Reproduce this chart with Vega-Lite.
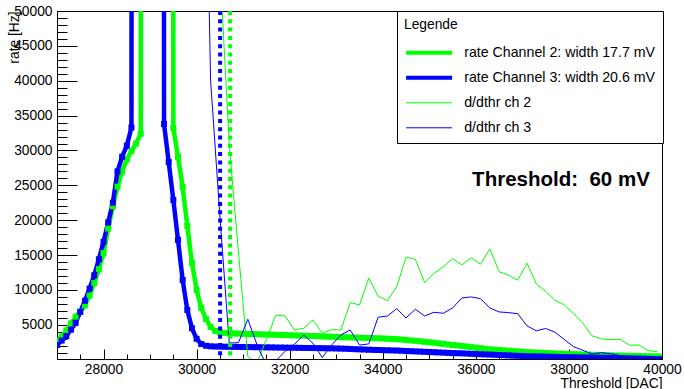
{
  "$schema": "https://vega.github.io/schema/vega-lite/v6.json",
  "autosize": {"type": "none"},
  "padding": {"left": 57, "top": 11, "right": 22, "bottom": 30},
  "width": 605,
  "height": 348,
  "background": "white",
  "config": {
    "font": "Liberation Sans",
    "view": {"stroke": "black", "strokeWidth": 1},
    "axis": {"grid": false, "domainColor": "black", "tickColor": "black", "labelColor": "black", "titleColor": "black", "labelFont": "Liberation Sans", "titleFont": "Liberation Sans", "labelFontSize": 13.8, "titleFontSize": 13.8, "titleFontWeight": "normal", "labelOverlap": false, "labelBound": false, "labelFlush": false}
  },
  "data": {"values": [
    {"s":"r2","x":27000,"y":2700},{"s":"r2","x":27100,"y":3350},{"s":"r2","x":27200,"y":4200},{"s":"r2","x":27300,"y":5200},{"s":"r2","x":27400,"y":6150},{"s":"r2","x":27500,"y":6900},{"s":"r2","x":27600,"y":7800},{"s":"r2","x":27700,"y":9200},{"s":"r2","x":27800,"y":11000},{"s":"r2","x":27900,"y":13000},{"s":"r2","x":28000,"y":15300},{"s":"r2","x":28100,"y":18800},{"s":"r2","x":28200,"y":22000},{"s":"r2","x":28300,"y":24800},{"s":"r2","x":28400,"y":27000},{"s":"r2","x":28500,"y":28700},{"s":"r2","x":28600,"y":29900},{"s":"r2","x":28700,"y":31000},{"s":"r2","x":28800,"y":32400},{"s":"r2","x":28900,"y":1000000},{"s":"r2","x":29400,"y":1000000},{"s":"r2","x":29500,"y":33230},{"s":"r2","x":29600,"y":29070},{"s":"r2","x":29700,"y":24770},{"s":"r2","x":29800,"y":19180},{"s":"r2","x":29900,"y":13870},{"s":"r2","x":30000,"y":10000},{"s":"r2","x":30100,"y":7420},{"s":"r2","x":30200,"y":5840},{"s":"r2","x":30300,"y":4700},{"s":"r2","x":30400,"y":4130},{"s":"r2","x":30500,"y":3900},
    {"s":"r2","x":30600,"y":3850},{"s":"r2","x":30700,"y":3800},{"s":"r2","x":30800,"y":3770},{"s":"r2","x":30900,"y":3740},{"s":"r2","x":31000,"y":3710},{"s":"r2","x":31100,"y":3690},{"s":"r2","x":31200,"y":3670},{"s":"r2","x":31300,"y":3650},{"s":"r2","x":31400,"y":3630},{"s":"r2","x":31500,"y":3610},{"s":"r2","x":31600,"y":3590},{"s":"r2","x":31700,"y":3570},{"s":"r2","x":31800,"y":3550},{"s":"r2","x":31900,"y":3530},{"s":"r2","x":32000,"y":3510},{"s":"r2","x":32100,"y":3490},{"s":"r2","x":32200,"y":3470},{"s":"r2","x":32300,"y":3450},{"s":"r2","x":32400,"y":3420},{"s":"r2","x":32500,"y":3400},{"s":"r2","x":32600,"y":3370},{"s":"r2","x":32700,"y":3340},{"s":"r2","x":32800,"y":3310},{"s":"r2","x":32900,"y":3280},{"s":"r2","x":33000,"y":3250},{"s":"r2","x":33100,"y":3230},{"s":"r2","x":33200,"y":3210},{"s":"r2","x":33300,"y":3190},{"s":"r2","x":33400,"y":3170},{"s":"r2","x":33500,"y":3150},{"s":"r2","x":33600,"y":3130},{"s":"r2","x":33700,"y":3110},{"s":"r2","x":33800,"y":3090},{"s":"r2","x":33900,"y":3070},{"s":"r2","x":34000,"y":3040},{"s":"r2","x":34100,"y":3010},{"s":"r2","x":34200,"y":2980},{"s":"r2","x":34300,"y":2950},{"s":"r2","x":34400,"y":2890},{"s":"r2","x":34500,"y":2830},{"s":"r2","x":34600,"y":2770},{"s":"r2","x":34700,"y":2710},{"s":"r2","x":34800,"y":2640},{"s":"r2","x":34900,"y":2570},{"s":"r2","x":35000,"y":2500},{"s":"r2","x":35100,"y":2430},{"s":"r2","x":35200,"y":2350},{"s":"r2","x":35300,"y":2270},{"s":"r2","x":35400,"y":2190},{"s":"r2","x":35500,"y":2110},{"s":"r2","x":35600,"y":2040},{"s":"r2","x":35700,"y":1970},{"s":"r2","x":35800,"y":1890},{"s":"r2","x":35900,"y":1810},{"s":"r2","x":36000,"y":1730},{"s":"r2","x":36100,"y":1650},{"s":"r2","x":36200,"y":1570},{"s":"r2","x":36300,"y":1500},{"s":"r2","x":36400,"y":1440},{"s":"r2","x":36500,"y":1390},{"s":"r2","x":36600,"y":1340},{"s":"r2","x":36700,"y":1290},{"s":"r2","x":36800,"y":1240},{"s":"r2","x":36900,"y":1190},{"s":"r2","x":37000,"y":1140},{"s":"r2","x":37100,"y":1090},{"s":"r2","x":37200,"y":1050},{"s":"r2","x":37300,"y":1020},{"s":"r2","x":37400,"y":990},{"s":"r2","x":37500,"y":960},{"s":"r2","x":37600,"y":930},{"s":"r2","x":37700,"y":900},{"s":"r2","x":37800,"y":870},{"s":"r2","x":37900,"y":840},{"s":"r2","x":38000,"y":810},{"s":"r2","x":38100,"y":790},{"s":"r2","x":38200,"y":770},{"s":"r2","x":38300,"y":750},{"s":"r2","x":38400,"y":730},{"s":"r2","x":38500,"y":710},{"s":"r2","x":38600,"y":690},{"s":"r2","x":38700,"y":670},{"s":"r2","x":38800,"y":650},{"s":"r2","x":38900,"y":630},{"s":"r2","x":39000,"y":610},{"s":"r2","x":39100,"y":590},{"s":"r2","x":39200,"y":570},{"s":"r2","x":39300,"y":560},{"s":"r2","x":39400,"y":540},{"s":"r2","x":39500,"y":520},{"s":"r2","x":39600,"y":500},{"s":"r2","x":39700,"y":490},{"s":"r2","x":39800,"y":470},{"s":"r2","x":39900,"y":460},{"s":"r2","x":40000,"y":440},
    {"s":"r3","x":27000,"y":2100},{"s":"r3","x":27100,"y":2750},{"s":"r3","x":27200,"y":3400},{"s":"r3","x":27300,"y":4300},{"s":"r3","x":27400,"y":5300},{"s":"r3","x":27500,"y":6850},{"s":"r3","x":27600,"y":8450},{"s":"r3","x":27700,"y":10200},{"s":"r3","x":27800,"y":12100},{"s":"r3","x":27900,"y":14400},{"s":"r3","x":28000,"y":16900},{"s":"r3","x":28100,"y":19700},{"s":"r3","x":28200,"y":22500},{"s":"r3","x":28300,"y":27000},{"s":"r3","x":28400,"y":29100},{"s":"r3","x":28500,"y":30700},{"s":"r3","x":28600,"y":33300},{"s":"r3","x":28700,"y":1000000},{"s":"r3","x":29200,"y":1000000},{"s":"r3","x":29300,"y":33800},{"s":"r3","x":29400,"y":28350},{"s":"r3","x":29500,"y":22900},{"s":"r3","x":29600,"y":17170},{"s":"r3","x":29700,"y":11430},{"s":"r3","x":29800,"y":7130},{"s":"r3","x":29900,"y":4500},{"s":"r3","x":30000,"y":3000},{"s":"r3","x":30100,"y":2250},{"s":"r3","x":30200,"y":2000},{"s":"r3","x":30300,"y":1920},{"s":"r3","x":30400,"y":1890},{"s":"r3","x":30500,"y":1870},
    {"s":"r3","x":30600,"y":1860},{"s":"r3","x":30700,"y":1850},{"s":"r3","x":30800,"y":1840},{"s":"r3","x":30900,"y":1830},{"s":"r3","x":31000,"y":1820},{"s":"r3","x":31100,"y":1810},{"s":"r3","x":31200,"y":1800},{"s":"r3","x":31300,"y":1790},{"s":"r3","x":31400,"y":1780},{"s":"r3","x":31500,"y":1770},{"s":"r3","x":31600,"y":1760},{"s":"r3","x":31700,"y":1750},{"s":"r3","x":31800,"y":1740},{"s":"r3","x":31900,"y":1730},{"s":"r3","x":32000,"y":1720},{"s":"r3","x":32100,"y":1710},{"s":"r3","x":32200,"y":1700},{"s":"r3","x":32300,"y":1690},{"s":"r3","x":32400,"y":1680},{"s":"r3","x":32500,"y":1670},{"s":"r3","x":32600,"y":1660},{"s":"r3","x":32700,"y":1650},{"s":"r3","x":32800,"y":1640},{"s":"r3","x":32900,"y":1630},{"s":"r3","x":33000,"y":1610},{"s":"r3","x":33100,"y":1590},{"s":"r3","x":33200,"y":1570},{"s":"r3","x":33300,"y":1540},{"s":"r3","x":33400,"y":1510},{"s":"r3","x":33500,"y":1480},{"s":"r3","x":33600,"y":1460},{"s":"r3","x":33700,"y":1430},{"s":"r3","x":33800,"y":1410},{"s":"r3","x":33900,"y":1390},{"s":"r3","x":34000,"y":1370},{"s":"r3","x":34100,"y":1350},{"s":"r3","x":34200,"y":1330},{"s":"r3","x":34300,"y":1310},{"s":"r3","x":34400,"y":1280},{"s":"r3","x":34500,"y":1250},{"s":"r3","x":34600,"y":1220},{"s":"r3","x":34700,"y":1190},{"s":"r3","x":34800,"y":1160},{"s":"r3","x":34900,"y":1130},{"s":"r3","x":35000,"y":1100},{"s":"r3","x":35100,"y":1070},{"s":"r3","x":35200,"y":1040},{"s":"r3","x":35300,"y":1010},{"s":"r3","x":35400,"y":980},{"s":"r3","x":35500,"y":950},{"s":"r3","x":35600,"y":930},{"s":"r3","x":35700,"y":910},{"s":"r3","x":35800,"y":880},{"s":"r3","x":35900,"y":850},{"s":"r3","x":36000,"y":820},{"s":"r3","x":36100,"y":790},{"s":"r3","x":36200,"y":760},{"s":"r3","x":36300,"y":730},{"s":"r3","x":36400,"y":700},{"s":"r3","x":36500,"y":670},{"s":"r3","x":36600,"y":640},{"s":"r3","x":36700,"y":610},{"s":"r3","x":36800,"y":580},{"s":"r3","x":36900,"y":550},{"s":"r3","x":37000,"y":520},{"s":"r3","x":37100,"y":500},{"s":"r3","x":37200,"y":480},{"s":"r3","x":37300,"y":470},{"s":"r3","x":37400,"y":450},{"s":"r3","x":37500,"y":440},{"s":"r3","x":37600,"y":420},{"s":"r3","x":37700,"y":410},{"s":"r3","x":37800,"y":390},{"s":"r3","x":37900,"y":380},{"s":"r3","x":38000,"y":360},{"s":"r3","x":38100,"y":350},{"s":"r3","x":38200,"y":340},{"s":"r3","x":38300,"y":330},{"s":"r3","x":38400,"y":320},{"s":"r3","x":38500,"y":310},{"s":"r3","x":38600,"y":300},{"s":"r3","x":38700,"y":290},{"s":"r3","x":38800,"y":280},{"s":"r3","x":38900,"y":270},{"s":"r3","x":39000,"y":250},{"s":"r3","x":39100,"y":240},{"s":"r3","x":39200,"y":220},{"s":"r3","x":39300,"y":200},{"s":"r3","x":39400,"y":180},{"s":"r3","x":39500,"y":160},{"s":"r3","x":39600,"y":140},{"s":"r3","x":39700,"y":120},{"s":"r3","x":39800,"y":100},{"s":"r3","x":39900,"y":80},{"s":"r3","x":40000,"y":60},
    {"s":"d2","x":30500,"y":56300},{"s":"d2","x":30700,"y":31000},{"s":"d2","x":30900,"y":15300},{"s":"d2","x":31100,"y":450},{"s":"d2","x":31300,"y":-400},{"s":"d2","x":31500,"y":2900},{"s":"d2","x":31700,"y":6400},{"s":"d2","x":31900,"y":6270},{"s":"d2","x":32100,"y":4270},{"s":"d2","x":32300,"y":4510},{"s":"d2","x":32500,"y":5700},{"s":"d2","x":32700,"y":3790},{"s":"d2","x":32900,"y":4300},{"s":"d2","x":33100,"y":4270},{"s":"d2","x":33300,"y":8200},{"s":"d2","x":33500,"y":7850},{"s":"d2","x":33700,"y":11700},{"s":"d2","x":33900,"y":9100},{"s":"d2","x":34100,"y":8470},{"s":"d2","x":34300,"y":10470},{"s":"d2","x":34500,"y":14690},{"s":"d2","x":34700,"y":14400},{"s":"d2","x":34900,"y":11050},{"s":"d2","x":35100,"y":12390},{"s":"d2","x":35300,"y":13340},{"s":"d2","x":35500,"y":14490},{"s":"d2","x":35700,"y":13580},{"s":"d2","x":35900,"y":14630},{"s":"d2","x":36100,"y":13690},{"s":"d2","x":36300,"y":15880},{"s":"d2","x":36500,"y":12620},{"s":"d2","x":36700,"y":12150},{"s":"d2","x":36900,"y":11390},{"s":"d2","x":37100,"y":13830},{"s":"d2","x":37300,"y":10860},{"s":"d2","x":37500,"y":9810},{"s":"d2","x":37700,"y":8520},{"s":"d2","x":37900,"y":7890},{"s":"d2","x":38100,"y":6600},{"s":"d2","x":38300,"y":5230},{"s":"d2","x":38500,"y":3410},{"s":"d2","x":38700,"y":2980},{"s":"d2","x":38900,"y":2880},{"s":"d2","x":39100,"y":2930},{"s":"d2","x":39300,"y":2070},{"s":"d2","x":39500,"y":2120},{"s":"d2","x":39700,"y":1300},{"s":"d2","x":39900,"y":1150},
    {"s":"d3","x":30100,"y":110000},{"s":"d3","x":30300,"y":40100},{"s":"d3","x":30500,"y":20600},{"s":"d3","x":30700,"y":2400},{"s":"d3","x":30900,"y":2450},{"s":"d3","x":31100,"y":5800},{"s":"d3","x":31300,"y":2100},{"s":"d3","x":31500,"y":-800},{"s":"d3","x":31700,"y":-200},{"s":"d3","x":31900,"y":1200},{"s":"d3","x":32100,"y":2200},{"s":"d3","x":32300,"y":3550},{"s":"d3","x":32500,"y":2360},{"s":"d3","x":32700,"y":300},{"s":"d3","x":32900,"y":2100},{"s":"d3","x":33100,"y":3550},{"s":"d3","x":33300,"y":4265},{"s":"d3","x":33500,"y":2100},{"s":"d3","x":33700,"y":2260},{"s":"d3","x":33900,"y":6090},{"s":"d3","x":34100,"y":6270},{"s":"d3","x":34300,"y":7320},{"s":"d3","x":34500,"y":5990},{"s":"d3","x":34700,"y":7230},{"s":"d3","x":34900,"y":6270},{"s":"d3","x":35100,"y":6800},{"s":"d3","x":35300,"y":6660},{"s":"d3","x":35500,"y":7420},{"s":"d3","x":35700,"y":8850},{"s":"d3","x":35900,"y":9000},{"s":"d3","x":36100,"y":8750},{"s":"d3","x":36300,"y":7420},{"s":"d3","x":36500,"y":6850},{"s":"d3","x":36700,"y":6750},{"s":"d3","x":36900,"y":6600},{"s":"d3","x":37100,"y":4850},{"s":"d3","x":37300,"y":4140},{"s":"d3","x":37500,"y":4480},{"s":"d3","x":37700,"y":3940},{"s":"d3","x":37900,"y":2900},{"s":"d3","x":38100,"y":1870},{"s":"d3","x":38300,"y":1350},{"s":"d3","x":38500,"y":820},{"s":"d3","x":38700,"y":1010},{"s":"d3","x":38900,"y":850},{"s":"d3","x":39100,"y":600},{"s":"d3","x":39300,"y":400},{"s":"d3","x":39500,"y":300},{"s":"d3","x":39700,"y":250},{"s":"d3","x":39900,"y":250}
  ]},
  "encoding": {
    "x": {"field": "x", "type": "quantitative", "title": "Threshold [DAC]",
      "scale": {"domain": [27000, 40000], "nice": false, "zero": false},
      "axis": {"format": "d", "values": [27500,28000,28500,29000,29500,30000,30500,31000,31500,32000,32500,33000,33500,34000,34500,35000,35500,36000,36500,37000,37500,38000,38500,39000,39500,40000],
        "labelExpr": "datum.value % 2000 === 0 ? datum.label : ''",
        "tickSize": {"condition": {"test": "datum.value % 2000 === 0", "value": -10}, "value": -5},
        "labelPadding": 13, "labelBaseline": "top",
        "titleAnchor": "end", "titleAlign": "right", "titleX": 605, "titleY": 24, "titleBaseline": "middle"}},
    "y": {"field": "y", "type": "quantitative", "title": "rate [Hz]",
      "scale": {"domain": [100, 50000], "nice": false, "zero": false},
      "axis": {"format": "d", "values": [1000,2000,3000,4000,5000,6000,7000,8000,9000,10000,11000,12000,13000,14000,15000,16000,17000,18000,19000,20000,21000,22000,23000,24000,25000,26000,27000,28000,29000,30000,31000,32000,33000,34000,35000,36000,37000,38000,39000,40000,41000,42000,43000,44000,45000,46000,47000,48000,49000,50000],
        "labelExpr": "datum.value % 5000 === 0 ? datum.label : ''",
        "tickSize": {"condition": {"test": "datum.value % 5000 === 0", "value": -20}, "value": -10},
        "labelPadding": 25,
        "titleAnchor": "end", "titleAngle": -90, "titleAlign": "right", "titleBaseline": "middle", "titleX": -43, "titleY": 0}}
  },
  "layer": [
    {
      "transform": [{"filter": "datum.s === 'r2' || datum.s === 'r3'"}],
      "mark": {"type": "line", "clip": true, "strokeJoin": "round", "strokeWidth": 4.5},
      "encoding": {
        "color": {"field": "s", "type": "nominal", "scale": {"domain": ["r2","r3","d2","d3"], "range": ["#00ff00","#0000ff","#00ff00","#0000ff"]},
          "legend": {"title": "Legende", "orient": "none", "legendX": 340, "legendY": 0, "symbolType": "stroke", "symbolSize": 2116, "clipHeight": 16, "rowPadding": 9, "titlePadding": 13, "padding": 7, "symbolOffset": 18, "labelOffset": 28, "fillColor": "white", "strokeColor": "black",
            "titleFont": "Liberation Sans", "titleFontSize": 13.8, "titleFontWeight": "normal", "titleColor": "black", "labelFont": "Liberation Sans", "labelFontSize": 14.2, "labelColor": "black", "labelLimit": 400,
            "labelExpr": "datum.label === 'r2' ? 'rate Channel 2: width 17.7 mV' : datum.label === 'r3' ? 'rate Channel 3: width 20.6 mV' : datum.label === 'd2' ? 'd/dthr ch 2' : 'd/dthr ch 3'",
            "encode": {"symbols": {"update": {"strokeWidth": {"signal": "datum.value === 'r2' || datum.value === 'r3' ? 4 : 1"}}}}}},
        "order": {"field": "x", "type": "quantitative"}
      }
    },
    {
      "transform": [{"filter": "datum.s === 'r2' || datum.s === 'r3'"}],
      "mark": {"type": "point", "shape": "square", "filled": true, "size": 36, "opacity": 1, "clip": true},
      "encoding": {
        "color": {"field": "s", "type": "nominal"}
      }
    },
    {
      "transform": [{"filter": "datum.s === 'd2' || datum.s === 'd3'"}],
      "mark": {"type": "line", "clip": true, "strokeWidth": 1},
      "encoding": {
        "color": {"field": "s", "type": "nominal"},
        "order": {"field": "x", "type": "quantitative"}
      }
    },
    {
      "data": {"values": [{"s": "r3", "thr": 30505}, {"s": "r2", "thr": 30720}]},
      "mark": {"type": "rule", "strokeWidth": 4, "strokeDash": [4, 4.3]},
      "encoding": {
        "x": {"field": "thr", "type": "quantitative"},
        "y": null,
        "color": {"field": "s", "type": "nominal"}
      }
    },
    {
      "data": {"values": [{"t": "Threshold:\u00a0 60 mV", "tx": 35920, "ty": 25800}]},
      "mark": {"type": "text", "font": "Liberation Sans", "fontWeight": "bold", "fontSize": 20.5, "align": "left", "baseline": "middle", "color": "black"},
      "encoding": {
        "x": {"field": "tx", "type": "quantitative"},
        "y": {"field": "ty", "type": "quantitative"},
        "text": {"field": "t", "type": "nominal"}
      }
    }
  ]
}
